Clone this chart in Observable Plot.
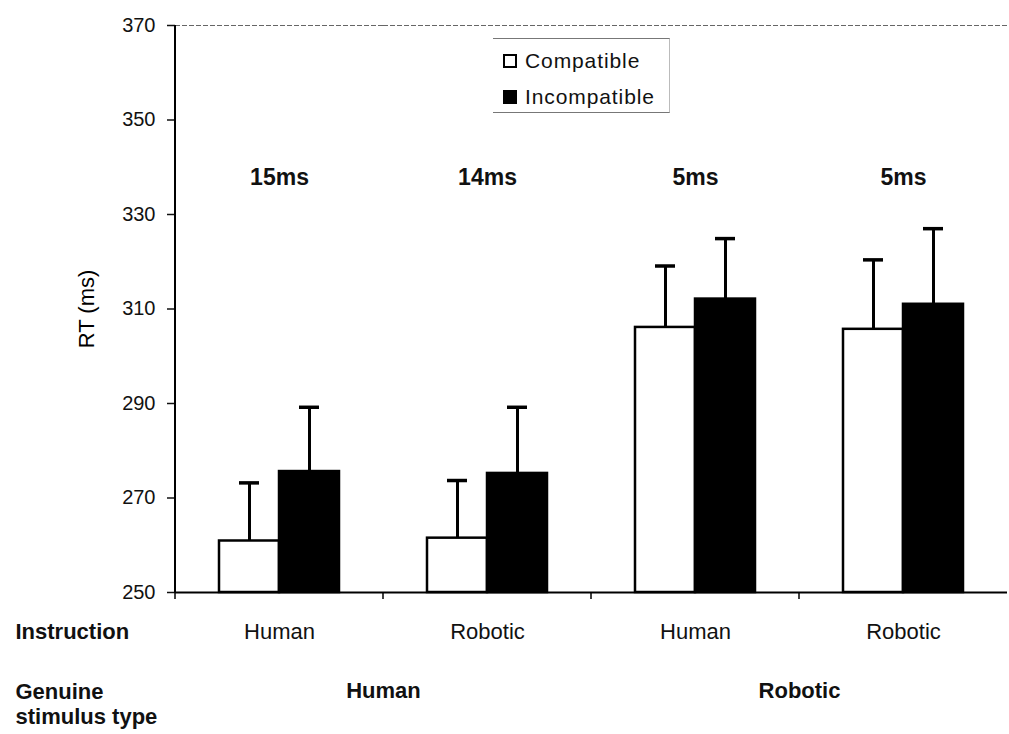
<!DOCTYPE html>
<html><head><meta charset="utf-8">
<script src="https://cdn.jsdelivr.net/npm/d3@7"></script>
<script src="https://cdn.jsdelivr.net/npm/@observablehq/plot@0.6"></script>
<style>
body{margin:0;background:#fff;font-family:"Liberation Sans",Arial,sans-serif;}
#wrap{position:relative;width:1009px;height:734px;}
#legend{position:absolute;left:493px;top:38px;width:177px;height:75px;border-top:1px solid #777;border-bottom:1px solid #777;border-right:1px solid #bbb;box-sizing:border-box;}
.item{position:absolute;left:10px;height:24px;display:flex;align-items:center;font-size:21px;letter-spacing:0.9px;color:#111;white-space:nowrap;}
.sw{width:10px;height:10px;border:2px solid #000;margin-right:8px;}
</style></head><body><div id="wrap"><div id="chart"></div><div id="legend"></div></div>
<script>
const instruction = ["Human", "Robotic", "Human", "Robotic"];
const stimulus = ["Human", "Human", "Robotic", "Robotic"];
const conditions = ["Compatible", "Incompatible"];
const compatibleRT = [260.9, 261.5, 306.1, 305.7];
const compatibleErr = [273.2, 273.7, 319.1, 320.4];
const incompatibleRT = [275.6, 275.2, 312.1, 311.0];
const incompatibleErr = [289.2, 289.2, 324.9, 327.0];
const effects = ["15ms", "14ms", "5ms", "5ms"];
const yTicks = [250, 270, 290, 310, 330, 350, 370];
const fills = ["#ffffff", "#000000"];

const rows = instruction.flatMap((ins, i) => [
  {g: i, cond: conditions[0], rt: compatibleRT[i], err: compatibleErr[i]},
  {g: i, cond: conditions[1], rt: incompatibleRT[i], err: incompatibleErr[i]}
]);
const stimLabels = stimulus.map((s, i) => ({g: i, label: s}))
  .filter((d, i) => i === 0 || stimulus[i - 1] !== d.label);
const groups = instruction.map((d, i) => i);
const font = '"Liberation Sans", Arial, sans-serif';

const plot = Plot.plot({
  width: 1009, height: 734,
  marginLeft: 173, marginRight: 1, marginTop: 25, marginBottom: 142,
  style: {fontFamily: font, color: "#111", background: "#fff", overflow: "visible"},
  fx: {domain: groups, padding: 0},
  x: {domain: conditions, paddingInner: 0, paddingOuter: 0.71, axis: null},
  y: {domain: [yTicks[0], yTicks[yTicks.length - 1]]},
  color: {domain: conditions, range: fills},
  marks: [
    Plot.ruleY([yTicks[yTicks.length - 1]], {stroke: "#666", strokeWidth: 1.2, strokeDasharray: "5,2"}),
    Plot.barY(rows, {fx: "g", x: "cond", y1: () => yTicks[0], y2: "rt", fill: "cond", stroke: "#000", strokeWidth: 2.5}),
    Plot.ruleX(rows, {fx: "g", x: "cond", y1: "rt", y2: "err", stroke: "#000", strokeWidth: 3}),
    Plot.tickY(rows, {fx: "g", x: "cond", y: "err", insetLeft: 20, insetRight: 20, stroke: "#000", strokeWidth: 3.5}),
    Plot.ruleY([yTicks[0]], {stroke: "#000", strokeWidth: 2}),
    Plot.axisY({ticks: yTicks, tickSize: 8, tickPadding: 12, fontSize: 20, letterSpacing: "1.3px", tickFormat: d => String(d), label: null, strokeWidth: 1.5}),
    Plot.axisFx({anchor: "bottom", tickSize: 0, tickPadding: 31, fontSize: 22, letterSpacing: "0.9px", tickFormat: i => instruction[i], label: null}),
    Plot.text(effects, {fx: (d, i) => i, text: d => d, frameAnchor: "top", dy: 143, fontSize: 23, fontWeight: "bold"}),
    Plot.text(["Instruction"], {fx: () => 0, text: d => d, frameAnchor: "bottom-left", textAnchor: "start", dx: -160, dy: 46, fontSize: 22, fontWeight: "bold"}),
    Plot.text(["Genuine\nstimulus type"], {fx: () => 0, text: d => d, frameAnchor: "bottom-left", textAnchor: "start", lineAnchor: "top", lineHeight: 1.14, dx: -160, dy: 89, fontSize: 22, fontWeight: "bold"}),
    Plot.text(stimLabels, {fx: "g", text: "label", frameAnchor: "bottom-right", textAnchor: "middle", dy: 105, fontSize: 22, fontWeight: "bold"}),
    Plot.text(["RT (ms)"], {fx: () => 0, text: d => d, frameAnchor: "left", textAnchor: "middle", dx: -89, rotate: -90, fontSize: 22, letterSpacing: "1px", fill: "#000"})
  ]
});
document.getElementById("chart").appendChild(plot);

// axis line and boundary ticks drawn from Plot's own scales
const fxS = plot.scale("fx"), yS = plot.scale("y");
const svg = d3.select(plot);
const x0 = fxS.apply(groups[0]);
const yB = yS.apply(yTicks[0]), yT = yS.apply(yTicks[yTicks.length - 1]);
svg.append("line").attr("x1", x0).attr("x2", x0).attr("y1", yT).attr("y2", yB)
  .attr("stroke", "#000").attr("stroke-width", 2);
groups.forEach(g => {
  const xx = fxS.apply(g);
  svg.append("line").attr("x1", xx).attr("x2", xx).attr("y1", yB).attr("y2", yB + 7)
    .attr("stroke", "#000").attr("stroke-width", 1.5);
});

// legend
const legend = document.getElementById("legend");
conditions.forEach((c, i) => {
  const item = document.createElement("div");
  item.className = "item";
  item.style.top = (10 + i * 36) + "px";
  const sw = document.createElement("span");
  sw.className = "sw";
  sw.style.background = fills[i];
  item.appendChild(sw);
  item.appendChild(document.createTextNode(c));
  legend.appendChild(item);
});
</script></body></html>
